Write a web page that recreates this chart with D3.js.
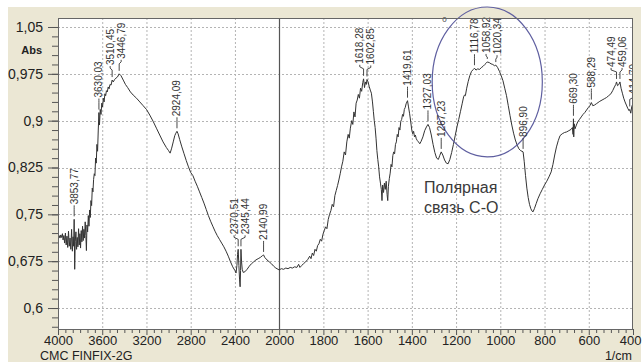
<!DOCTYPE html>
<html>
<head>
<meta charset="utf-8">
<script src="https://cdn.jsdelivr.net/npm/d3@7"></script>
<style>
  body { margin: 0; background: #ffffff; }
  svg { display: block; font-family: "Liberation Sans", Arial, sans-serif; }
</style>
</head>
<body>
<svg id="chart" width="643" height="362"></svg>
<script>
// IR spectrum: [wavenumber (1/cm), absorbance]
const spectrum = [
  [4000,0.714],[3990,0.716],[3982,0.712],[3975,0.717],[3968,0.713],[3960,0.719],[3954,0.709],[3947,0.716],
  [3940,0.704],[3933,0.720],[3926,0.701],[3919,0.715],[3912,0.697],[3905,0.723],[3898,0.699],[3891,0.712],
  [3884,0.694],[3877,0.726],[3870,0.691],[3864,0.714],[3858,0.699],[3853.77,0.742],[3849,0.662],[3844,0.707],
  [3838,0.722],[3832,0.694],[3826,0.713],[3820,0.698],[3814,0.727],[3808,0.701],[3802,0.719],[3796,0.696],
  [3790,0.724],[3784,0.706],[3778,0.731],[3772,0.708],[3766,0.726],[3760,0.712],[3754,0.738],[3748,0.716],
  [3743,0.692],[3738,0.733],[3732,0.722],[3726,0.748],[3720,0.731],[3714,0.757],[3708,0.745],[3702,0.772],
  [3696,0.764],[3690,0.792],[3684,0.786],[3678,0.806],[3672,0.815],[3666,0.812],[3660,0.840],[3654,0.832],
  [3648,0.862],[3642,0.851],[3636,0.885],[3630.03,0.913],[3625,0.893],[3618,0.918],[3611,0.910],[3604,0.928],
  [3597,0.922],[3590,0.936],[3583,0.930],[3576,0.943],[3569,0.940],[3562,0.948],[3554,0.946],[3546,0.954],
  [3538,0.951],[3530,0.958],[3520,0.957],[3510.45,0.965],[3500,0.962],[3488,0.966],[3476,0.968],[3462,0.970],
  [3446.79,0.975],[3430,0.972],[3410,0.965],[3390,0.958],[3370,0.953],[3345,0.946],[3320,0.941],[3290,0.936],
  [3260,0.930],[3230,0.924],[3200,0.918],[3170,0.909],[3140,0.899],[3110,0.888],[3080,0.877],[3050,0.866],
  [3020,0.857],[3000,0.852],[2986,0.848],[2972,0.856],[2958,0.866],[2944,0.876],[2934,0.880],[2924.09,0.883],
  [2914,0.879],[2900,0.870],[2880,0.858],[2860,0.847],[2840,0.836],[2820,0.826],[2800,0.817],[2780,0.812],
  [2760,0.803],[2740,0.795],[2720,0.786],[2700,0.777],[2680,0.768],[2660,0.758],[2640,0.748],[2620,0.739],
  [2600,0.731],[2580,0.723],[2560,0.716],[2540,0.710],[2520,0.704],[2500,0.698],[2480,0.691],[2460,0.683],
  [2440,0.674],[2420,0.666],[2400,0.660],[2390,0.656],[2382,0.668],[2376,0.686],[2370.51,0.694],[2364,0.668],
  [2358,0.645],[2353,0.634],[2349,0.660],[2345.44,0.694],[2340,0.674],[2334,0.662],[2325,0.657],[2310,0.658],
  [2290,0.662],[2270,0.667],[2250,0.671],[2230,0.674],[2210,0.677],[2190,0.679],[2170,0.681],[2150,0.684],
  [2140.99,0.685],[2130,0.681],[2110,0.677],[2090,0.674],[2070,0.671],[2050,0.667],[2030,0.664],[2010,0.662],
  [2000,0.661],[1990,0.663],[1980,0.662],[1970,0.664],[1960,0.663],[1950,0.665],[1940,0.664],[1930,0.666],
  [1920,0.665],[1912,0.670],[1906,0.665],[1898,0.668],[1890,0.671],[1880,0.674],[1870,0.678],[1862,0.683],
  [1856,0.679],[1850,0.688],[1844,0.684],[1838,0.694],[1832,0.691],[1826,0.700],[1820,0.703],[1814,0.710],
  [1808,0.707],[1802,0.718],[1796,0.724],[1790,0.730],[1784,0.727],[1778,0.742],[1772,0.750],[1766,0.756],
  [1760,0.766],[1754,0.762],[1748,0.780],[1742,0.788],[1736,0.796],[1730,0.805],[1724,0.815],[1718,0.826],
  [1712,0.835],[1706,0.850],[1700,0.845],[1694,0.866],[1688,0.878],[1683,0.872],[1678,0.888],[1672,0.900],
  [1667,0.894],[1662,0.914],[1657,0.906],[1652,0.928],[1647,0.933],[1642,0.942],[1637,0.936],[1632,0.952],
  [1627,0.947],[1622,0.961],[1618.28,0.967],[1614,0.953],[1610,0.962],[1606,0.958],[1602.85,0.966],[1598,0.962],
  [1593,0.955],[1588,0.949],[1583,0.944],[1578,0.930],[1574,0.915],[1570,0.900],[1566,0.889],[1562,0.872],
  [1558,0.852],[1554,0.838],[1550,0.826],[1546,0.810],[1542,0.800],[1538,0.790],[1535,0.772],[1532,0.797],
  [1528,0.785],[1524,0.800],[1520,0.790],[1516,0.803],[1512,0.782],[1509,0.772],[1506,0.795],[1502,0.807],
  [1498,0.816],[1494,0.830],[1490,0.826],[1486,0.844],[1482,0.850],[1478,0.847],[1474,0.862],[1470,0.866],
  [1466,0.878],[1462,0.874],[1458,0.889],[1454,0.885],[1450,0.899],[1446,0.902],[1442,0.910],[1438,0.907],
  [1434,0.918],[1430,0.921],[1426,0.927],[1419.61,0.932],[1415,0.922],[1410,0.911],[1405,0.898],[1400,0.884],
  [1396,0.879],[1392,0.883],[1388,0.874],[1384,0.877],[1380,0.871],[1375,0.868],[1370,0.866],[1364,0.863],
  [1358,0.867],[1350,0.874],[1342,0.884],[1334,0.890],[1327.03,0.894],[1320,0.889],[1312,0.877],[1304,0.862],
  [1296,0.849],[1288,0.840],[1280,0.838],[1274,0.844],[1267.23,0.850],[1260,0.845],[1252,0.837],[1244,0.832],
  [1236,0.831],[1228,0.838],[1220,0.849],[1212,0.862],[1204,0.876],[1196,0.890],[1188,0.902],[1180,0.915],
  [1172,0.928],[1166,0.938],[1162,0.941],[1158,0.940],[1152,0.952],[1145,0.963],[1138,0.972],[1130,0.979],
  [1122,0.982],[1116.78,0.984],[1110,0.981],[1102,0.983],[1094,0.982],[1086,0.985],[1078,0.987],[1070,0.990],
  [1064,0.992],[1058.92,0.994],[1050,0.993],[1042,0.991],[1034,0.990],[1026,0.988],[1020.34,0.989],[1012,0.985],
  [1004,0.979],[996,0.972],[988,0.964],[980,0.952],[972,0.940],[964,0.924],[956,0.908],[948,0.893],
  [940,0.880],[932,0.869],[924,0.861],[916,0.855],[908,0.852],[902,0.851],[896.90,0.850],[892,0.835],
  [886,0.812],[880,0.792],[874,0.777],[868,0.766],[862,0.759],[856,0.755],[852,0.754],[846,0.759],
  [838,0.767],[830,0.775],[820,0.783],[810,0.790],[800,0.797],[790,0.803],[780,0.810],[770,0.818],
  [762,0.830],[754,0.845],[746,0.858],[738,0.868],[730,0.876],[720,0.879],[710,0.881],[700,0.882],
  [690,0.884],[680,0.886],[674,0.889],[671,0.878],[669.30,0.903],[668,0.874],[666,0.895],[662,0.887],
  [656,0.893],[650,0.898],[642,0.902],[634,0.906],[626,0.910],[618,0.913],[610,0.917],[602,0.921],
  [595,0.924],[588.29,0.929],[582,0.924],[574,0.925],[566,0.927],[558,0.929],[550,0.931],[540,0.933],
  [530,0.935],[520,0.937],[510,0.940],[500,0.943],[492,0.948],[484,0.954],[478,0.958],[474.49,0.962],
  [470,0.956],[464,0.958],[459.06,0.962],[454,0.952],[448,0.944],[442,0.936],[436,0.930],[430,0.925],
  [424,0.920],[418,0.916],[414.70,0.918],[410,0.912],[406,0.922],[400,0.928]
];

// Marked peaks
const peakWavenumbers = [3853.77, 3630.03, 3510.45, 3446.79, 2924.09, 2370.51, 2345.44, 2140.99,
  1618.28, 1602.85, 1419.61, 1327.03, 1267.23, 1116.78, 1058.92, 1020.34, 896.90, 669.30, 588.29,
  474.49, 459.06, 414.70];
const peakLabels = ["3853,77", "3630,03", "3510,45", "3446,79", "2924,09", "2370,51", "2345,44", "2140,99",
  "1618,28", "1602,85", "1419,61", "1327,03", "1267,23", "1116,78", "1058,92", "1020,34", "896,90", "669,30", "588,29",
  "474,49", "459,06", "414,70"];

// Axes
const xTicks = [4000, 3600, 3200, 2800, 2400, 2000, 1800, 1600, 1400, 1200, 1000, 800, 600, 400];
const xTickLabels = ["4000", "3600", "3200", "2800", "2400", "2000", "1800", "1600", "1400", "1200", "1000", "800", "600", "400"];
const yTicks = [1.05, 0.975, 0.9, 0.825, 0.75, 0.675, 0.6];
const yTickLabels = ["1,05", "0,975", "0,9", "0,825", "0,75", "0,675", "0,6"];
const xBreak = 2000;               // scale doubles below this wavenumber
const xDomain = [4000, 400];
const yDomain = [0.5664, 1.0644];
const yTitle = "Abs";
const xTitle = "1/cm";
const sampleName = "CMC FINFIX-2G";

// Highlighted C–O band (wavenumber and absorbance extents) and its note
const bandWn = [1308, 810];
const bandAbs = [0.842, 1.082];
const noteLines = ["Полярная", "связь С-О"];
const noteAt = [1345, 0.784];       // [wavenumber, absorbance] of the note's first baseline

const svg = d3.select("#chart");
const plot = { left: 58, right: 633, top: 18, bottom: 329 };

// Split wavenumber scale: 4000–2000 compressed, 2000–400 at twice the density
const span = (xDomain[0] - xBreak) + 2 * (xBreak - xDomain[1]);
const breakPx = plot.left + (plot.right - plot.left) * (xDomain[0] - xBreak) / span;
const x = d3.scaleLinear().domain([xDomain[0], xBreak, xDomain[1]]).range([plot.left, breakPx, plot.right]);
const y = d3.scaleLinear().domain(yDomain).range([plot.bottom, plot.top]);

// Window background
svg.append("rect").attr("x", 8).attr("y", 7).attr("width", 633).attr("height", 355).attr("fill", "#ebe7d4");
svg.append("rect").attr("x", plot.left).attr("y", plot.top)
  .attr("width", plot.right - plot.left).attr("height", plot.bottom - plot.top).attr("fill", "#ffffff");

const defs = svg.append("defs");
defs.append("clipPath").attr("id", "plotClip").append("rect")
  .attr("x", plot.left).attr("y", plot.top).attr("width", plot.right - plot.left).attr("height", plot.bottom - plot.top);
defs.append("clipPath").attr("id", "labelClip").append("rect")
  .attr("x", plot.left).attr("y", 0).attr("width", plot.right - plot.left).attr("height", plot.bottom);

// Grid
const grid = svg.append("g");
grid.selectAll("line.gx").data(xTicks.filter(d => d !== xDomain[0] && d !== xDomain[1] && d !== xBreak))
  .join("line").attr("x1", d => x(d) + 0.5).attr("x2", d => x(d) + 0.5)
  .attr("y1", plot.top).attr("y2", plot.bottom)
  .attr("stroke", "#b4b4b4").attr("stroke-dasharray", "2,2");
grid.selectAll("line.gy").data(yTicks)
  .join("line").attr("x1", plot.left).attr("x2", plot.right)
  .attr("y1", d => Math.round(y(d)) + 0.5).attr("y2", d => Math.round(y(d)) + 0.5)
  .attr("stroke", "#b4b4b4").attr("stroke-dasharray", "2,2");
grid.append("line").attr("x1", Math.round(x(xBreak)) + 0.5).attr("x2", Math.round(x(xBreak)) + 0.5)
  .attr("y1", plot.top).attr("y2", plot.bottom).attr("stroke", "#555").attr("stroke-width", 1.2);

// Spectrum
const line = d3.line().x(d => x(d[0])).y(d => y(d[1]));
svg.append("path").datum(spectrum).attr("clip-path", "url(#plotClip)")
  .attr("d", line).attr("fill", "none").attr("stroke", "#333").attr("stroke-width", 1)
  .attr("stroke-linejoin", "round");

// Band ellipse
svg.append("ellipse")
  .attr("cx", (x(bandWn[0]) + x(bandWn[1])) / 2)
  .attr("cy", (y(bandAbs[0]) + y(bandAbs[1])) / 2)
  .attr("rx", Math.abs(x(bandWn[1]) - x(bandWn[0])) / 2)
  .attr("ry", Math.abs(y(bandAbs[0]) - y(bandAbs[1])) / 2)
  .attr("fill", "none").attr("stroke", "#5f5fa0").attr("stroke-width", 1.2);

svg.append("text").attr("x", x(1263)).attr("y", 22).attr("font-size", 8).attr("fill", "#444").text("0");

// Peak labels: leaders with labels spread apart horizontally when crowded
const absAt = wn => spectrum.find(d => d[0] === wn)[1];
const peaks = peakWavenumbers.map((wn, i) => ({ wn, text: peakLabels[i], px: x(wn), py: y(absAt(wn)) }));
peaks.forEach(p => p.lx = p.px);
const minGap = 11;
for (let iter = 0; iter < 30; iter++) {
  for (let i = 1; i < peaks.length; i++) {
    const a = peaks[i - 1], b = peaks[i];
    const gap = b.lx - a.lx;
    if (gap < minGap) { const push = (minGap - gap) / 2; a.lx -= push; b.lx += push; }
  }
}
const lg = svg.append("g").attr("clip-path", "url(#labelClip)");
peaks.forEach(p => {
  const t = lg.append("text").attr("dy", "0.35em").attr("font-size", 10).attr("fill", "#333").text(p.text);
  const len = t.node().getComputedTextLength();
  // keep the label inside the plot's top edge by shortening its leader
  let y3 = Math.max(p.py - 14, plot.top + len + 1);
  y3 = Math.min(y3, p.py - 8);
  const y0 = p.py - 3;
  const y1 = Math.min(p.py - 5, y3 + 4), y2 = Math.min(p.py - 6, y3 + 2);
  t.attr("transform", `translate(${p.lx},${y3 - 1}) rotate(-90)`);
  lg.append("path")
    .attr("d", `M${p.px},${y0}L${p.px},${y1}L${p.lx},${y2}L${p.lx},${y3}`)
    .attr("fill", "none").attr("stroke", "#333").attr("stroke-width", 0.9);
});

// Note
const note = svg.append("text").attr("x", x(noteAt[0])).attr("y", y(noteAt[1]))
  .attr("font-size", 16).attr("fill", "#3a3a3a");
noteLines.forEach((t, i) => note.append("tspan").attr("x", x(noteAt[0])).attr("dy", i ? 20 : 0).text(t));

// Y axis
const yMinor = d3.range(0, 40).map(i => +(0.57 + i * 0.015).toFixed(3)).filter(v => v >= yDomain[0] && v <= yDomain[1]);
svg.append("g").attr("transform", `translate(${plot.left},0)`)
  .call(d3.axisLeft(y).tickValues(yMinor).tickSize(6).tickFormat(""))
  .call(g => g.select(".domain").remove())
  .call(g => g.selectAll("line").attr("stroke", "#555"));
svg.append("g").attr("transform", `translate(${plot.left},0)`)
  .call(d3.axisLeft(y).tickValues(yTicks).tickSize(10).tickPadding(5).tickFormat((d, i) => yTickLabels[i]))
  .call(g => g.select(".domain").remove())
  .call(g => g.selectAll("line").attr("stroke", "#555"))
  .call(g => g.selectAll("text").attr("font-size", 14).attr("fill", "#222")
    .attr("font-family", "'Liberation Sans', Arial, sans-serif"));
svg.append("text").attr("x", 42).attr("y", 54).attr("text-anchor", "end")
  .attr("font-size", 11).attr("font-weight", "bold").attr("fill", "#222").text(yTitle);

// X axis
const xMinor = [];
for (let i = 0; i < xTicks.length - 1; i++) {
  const a = xTicks[i], b = xTicks[i + 1];
  for (let k = 1; k < 6; k++) xMinor.push(a + (b - a) * k / 6);
}
svg.append("g").attr("transform", `translate(0,${plot.bottom})`)
  .call(d3.axisBottom(x).tickValues(xMinor).tickSize(4).tickFormat(""))
  .call(g => g.select(".domain").remove())
  .call(g => g.selectAll("line").attr("stroke", "#555"));
svg.append("g").attr("transform", `translate(0,${plot.bottom})`)
  .call(d3.axisBottom(x).tickValues(xTicks).tickSize(6).tickPadding(1).tickFormat((d, i) => xTickLabels[i]))
  .call(g => g.select(".domain").remove())
  .call(g => g.selectAll("line").attr("stroke", "#555"))
  .call(g => g.selectAll("text").attr("font-size", 13).attr("fill", "#222")
    .attr("font-family", "'Liberation Sans', Arial, sans-serif"))
  // last label sits flush with the window's right edge
  .call(g => g.selectAll(".tick").filter(d => d === xDomain[1]).select("text")
    .attr("text-anchor", "end").attr("x", 8));

// Plot frame
svg.append("rect").attr("x", plot.left + 0.5).attr("y", plot.top + 0.5)
  .attr("width", plot.right - plot.left - 1).attr("height", plot.bottom - plot.top)
  .attr("fill", "none").attr("stroke", "#666");

svg.append("text").attr("x", 40).attr("y", 360).attr("font-size", 12.5).attr("fill", "#222").text(sampleName);
svg.append("text").attr("x", 632).attr("y", 360).attr("text-anchor", "end")
  .attr("font-size", 12.5).attr("fill", "#222").text(xTitle);
</script>
</body>
</html>
